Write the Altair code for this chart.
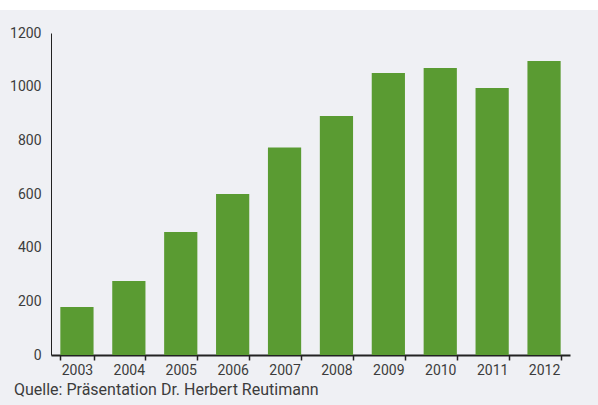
import altair as alt
import pandas as pd

years = ["2003", "2004", "2005", "2006", "2007", "2008", "2009", "2010", "2011", "2012"]
values = [179, 276, 458, 600, 773, 891, 1051, 1070, 995, 1096]
y_ticks = [0, 200, 400, 600, 800, 1000, 1200]
source = "Quelle: Präsentation Dr. Herbert Reutimann"

df = pd.DataFrame({"Jahr": years, "Wert": values})

FONT = "Roboto, sans-serif"
TXT = "#3c3c3c"

W, H = 519, 322
PL, PT, PR, PB = 51, 33, 28, 50

bars = alt.Chart(df).mark_bar(color="#5a9b32").encode(
    x=alt.X("Jahr:N", sort=years, title=None,
            scale=alt.Scale(paddingInner=0.36, paddingOuter=0.18),
            axis=alt.Axis(labelAngle=0, labelFont=FONT, labelFontSize=14, labelColor=TXT,
                          domainColor="#222222", domainWidth=2, tickColor="#222222",
                          tickWidth=1.5, tickSize=5, tickBand="extent", labelPadding=3)),
    y=alt.Y("Wert:Q", title=None,
            scale=alt.Scale(domain=[0, 1200], nice=False),
            axis=alt.Axis(values=y_ticks, format="d", grid=False, ticks=False, labelPadding=10,
                          labelFont=FONT, labelFontSize=14, labelColor=TXT,
                          domainColor="#222222", domainWidth=1)),
)

top_strip = alt.Chart(pd.DataFrame({"a": [0]})).mark_rect(color="white").encode(
    x=alt.value(-PL), x2=alt.value(W + PR), y=alt.value(-PT), y2=alt.value(-PT + 10)
)

src = alt.Chart(pd.DataFrame({"t": [source]})).mark_text(
    align="left", baseline="middle", font=FONT, fontSize=16, color=TXT
).encode(text="t:N", x=alt.value(-37), y=alt.value(357))

chart = alt.layer(top_strip, bars, src).properties(
    width=W, height=H,
    background="#eff0f4",
    padding={"left": PL, "top": PT, "right": PR, "bottom": PB},
    autosize=alt.AutoSizeParams(type="none"),
).configure_view(stroke=None)

chart.save("out.html", embed_options={"renderer": "svg", "actions": False})
